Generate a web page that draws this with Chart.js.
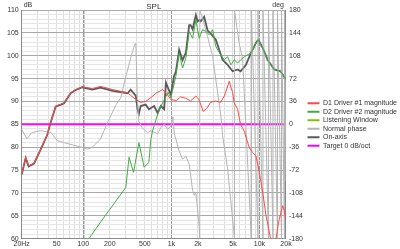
<!DOCTYPE html>
<html><head><meta charset="utf-8">
<script src="https://cdn.jsdelivr.net/npm/chart.js@4/dist/chart.umd.min.js"></script>
<style>html,body{margin:0;padding:0;background:#fff;}canvas{display:block;}</style>
</head><body>
<canvas id="c" width="400" height="249"></canvas>
<script>
// ---- data (frequency Hz, value) ----
const xTickValues = [20,30,40,50,60,70,80,90,100,200,300,400,500,600,700,800,900,1000,2000,3000,4000,5000,6000,7000,8000,9000,10000,20000];
const xTickLabels = {20:'20Hz',50:'50',100:'100',200:'200',500:'500',1000:'1k',2000:'2k',5000:'5k',10000:'10k',20000:'20k'};
const legendNames = ['D1 Driver #1 magnitude','D2 Driver #2 magnitude','Listening Window','Normal phase','On-axis','Target 0 dB/oct'];

const d1Mag = [[20,74.1],[22.2,77.8],[24,75.9],[27.6,76.5],[32.9,79.6],[39.1,82.8],[41.9,85.0],[48.7,89.0],[56,89.4],[60.5,89.7],[72,91.9],[82.2,92.6],[97.9,93.2],[127,92.8],[157,93.3],[215,92.6],[318,91.9],[395,90.4],[448,89.8],[510,90.0],[582,90.8],[670,91.8],[794,92.6],[900,91.5],[987,90.4],[1140,90.2],[1274,91.0],[1461,90.7],[1654,90.1],[1898,91.2],[2050,90.5],[2300,87.8],[2530,88.5],[2788,89.8],[3200,90.1],[3620,89.8],[4000,91.2],[4537,94.4],[4960,91.9],[5170,89.7],[5650,88.3],[6100,85.0],[6718,83.5],[7656,79.9],[8366,78.8],[9122,78.1],[9946,74.5],[10870,70.2],[11852,65.1],[12920,61.5],[14238,57.0],[15394,60.0],[16652,64.0],[18350,67.2],[19232,66.0],[20000,64.0]];

const d2Mag = [[100,58.2],[157,63.6],[304,71.2],[331,77.8],[372,74.5],[428,81.0],[491,75.6],[556,76.7],[585,81.7],[611,83.5],[670,86.1],[759,89.0],[836,90.4],[915,92.0],[987,90.8],[1125,95.5],[1226,100.6],[1340,97.3],[1461,99.5],[1593,105.3],[1742,103.8],[1898,107.8],[2070,103.8],[2262,105.7],[2466,105.3],[2688,104.6],[2938,105.7],[3200,102.0],[3620,100.2],[4000,99.1],[4350,99.8],[4743,98.0],[5170,99.1],[5650,98.4],[6100,99.1],[7026,100.0],[8004,100.6],[9122,102.8],[9688,103.5],[10870,101.7],[12390,99.1],[14720,97.0],[17340,96.6],[20000,94.8]];

const listeningWindow = [];

const normalPhase = [[20,-8],[23,-23],[26,-13],[33,-10],[43,-13],[51,-26],[61,-29],[78,-33],[95,-36],[112,-39],[127,-36],[157,-23],[185,0],[234,30],[267,42],[304,75],[346,105],[385,126],[395,128],[411,40],[427,5],[462,-5],[536,-13],[585,-10],[697,-15],[759,-5],[828,0],[905,-8],[987,-3],[1040,12],[1081,-15],[1226,-42],[1340,-55],[1461,-50],[1593,-63],[1742,-104],[1816,-112],[1898,-107],[2070,-162],[2100,-180],[2100,180],[2262,167],[2578,138],[2938,107],[3350,50],[3650,13],[3816,-18],[4350,-70],[4743,-123],[5170,-175],[5200,-180],[5200,180],[5848,130],[6444,102],[8004,-169],[8110,-180],[8110,180],[9612,-180],[9612,180],[10954,-180],[10954,180],[12652,-180],[12652,180],[14238,-180],[14238,180],[16018,-180],[16018,180],[17780,-180],[17780,180],[19232,-180],[19232,180],[20000,-90]];

const onAxis = [[20,74.0],[22.2,77.6],[24,75.8],[27.6,76.4],[32.9,79.5],[39.1,82.7],[41.9,84.9],[48.7,88.9],[56,89.3],[60.5,89.6],[72,91.8],[82.2,92.5],[97.9,93.1],[127,92.6],[157,93.0],[215,92.3],[318,91.8],[345,92.6],[395,91.2],[413,88.3],[427,87.2],[448,89.0],[510,89.3],[557,88.3],[636,89.0],[697,87.5],[759,89.0],[828,88.3],[868,94.1],[950,92.2],[987,91.5],[1070,95.5],[1125,96.5],[1226,101.3],[1340,99.0],[1461,100.7],[1593,106.7],[1654,106.7],[1742,105.8],[1898,108.9],[1984,107.5],[2070,107.8],[2147,107.5],[2358,108.5],[2578,105.5],[2788,104.9],[3200,103.5],[3492,101.3],[3816,99.1],[4350,98.0],[4960,96.6],[5650,97.0],[6100,96.6],[7026,98.0],[8004,100.6],[9122,102.8],[9688,103.5],[10870,101.7],[12390,99.1],[14720,97.0],[17340,96.6],[20000,94.8]];

const target = [[20,85],[20000,85]];

const toXY = a => a.map(p => ({x:p[0], y:p[1]}));
const FONT = 'Liberation Sans';

const textPlugin = {
  id:'texts',
  afterLayout(chart){
    if (chart.legend) { chart.legend.top -= 5; chart.legend.bottom -= 5; }
  },
  afterDraw(chart){
    const {ctx, chartArea:a} = chart;
    ctx.save();
    ctx.fillStyle = '#333';
    ctx.textBaseline = 'alphabetic';
    ctx.font = '7px "' + FONT + '"';
    ctx.textAlign = 'left';
    ctx.fillText('dB', a.left + 2, a.top - 3);
    ctx.textAlign = 'right';
    ctx.fillText('deg', a.right - 2, a.top - 3);
    ctx.font = '8px "' + FONT + '"';
    ctx.textAlign = 'center';
    ctx.fillText('SPL', (a.left + a.right)/2, a.top - 1.5);
    ctx.restore();
  }
};

const ds = (label, data, color, width, axis) => ({
  label, data: toXY(data), borderColor: color, backgroundColor: color,
  borderWidth: width, pointRadius: 0, yAxisID: axis, tension: 0
});

new Chart(document.getElementById('c'), {
  type: 'line',
  data: { datasets: [
    ds(legendNames[0], d1Mag, '#ff4848', 1, 'y'),
    ds(legendNames[1], d2Mag, '#45a845', 1, 'y'),
    ds(legendNames[2], listeningWindow, '#80c000', 1, 'y'),
    ds(legendNames[3], normalPhase, '#b4b4b4', 1, 'y1'),
    ds(legendNames[4], onAxis, '#5a5a5a', 1.8, 'y'),
    ds(legendNames[5], target, '#ff00ff', 2, 'y'),
  ]},
  options: {
    responsive: false, animation: false, devicePixelRatio: 1,
    layout: { padding: { top: 10, left: 4, right: 0, bottom: 0 } },
    plugins: {
      title: { display: false },
      tooltip: { enabled: false },
      legend: {
        position: 'right',
        maxWidth: 94,
        labels: {
          font: { family: FONT, size: 7 }, color: '#333',
          boxWidth: 12, boxHeight: 2, padding: 1.5,
          generateLabels(chart){
            const items = Chart.defaults.plugins.legend.labels.generateLabels(chart);
            items.forEach(i => { i.lineWidth = 0; });
            return items;
          }
        }
      }
    },
    scales: {
      x: {
        type: 'logarithmic', min: 20, max: 20000,
        afterBuildTicks(scale){ scale.ticks = xTickValues.map(v => ({value: v})); },
        ticks: {
          autoSkip: false, maxRotation: 0, padding: 1,
          font: { family: FONT, size: 7 }, color: '#333',
          callback: v => xTickLabels[v] || ''
        },
        grid: {
          drawTicks: false,
          color: c => ([100,1000,10000].includes(c.tick && c.tick.value)) ? '#9a9a9a' : '#dedede',
          lineWidth: c => (c.tick && c.tick.value === 100) ? 1.5 : 1
        },
        border: { color: '#8a8a8a' }
      },
      y: {
        position: 'left', min: 60, max: 110,
        ticks: {
          stepSize: 1, autoSkip: false, padding: 3,
          font: { family: FONT, size: 7 }, color: '#333',
          callback: v => (v % 5 === 0) ? String(v) : ''
        },
        grid: {
          drawTicks: false,
          color: c => (c.tick && c.tick.value % 5 === 0) ? '#a8a8a8' : '#e6e6e6'
        },
        border: { color: '#8a8a8a' }
      },
      y1: {
        position: 'right', min: -180, max: 180,
        ticks: {
          stepSize: 36, autoSkip: false, padding: 3,
          font: { family: FONT, size: 7 }, color: '#333'
        },
        grid: { drawOnChartArea: false, drawTicks: false },
        border: { color: '#8a8a8a' }
      }
    }
  },
  plugins: [textPlugin]
});
</script>
</body></html>
